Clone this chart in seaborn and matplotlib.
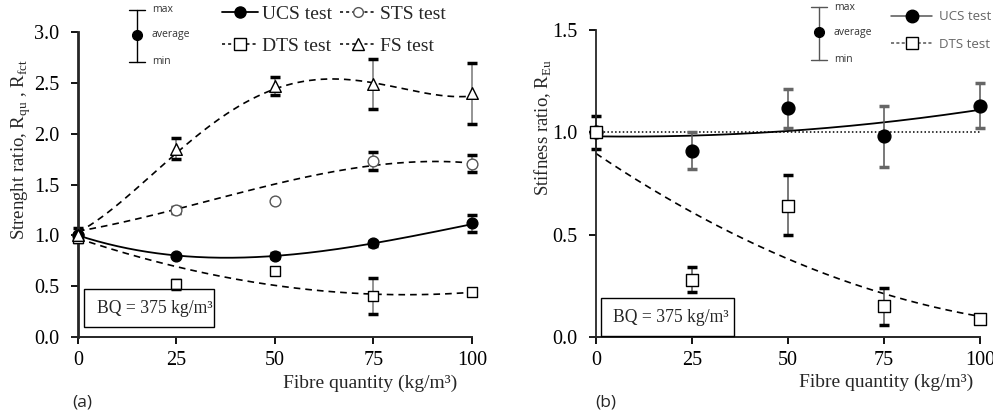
import numpy as np
import matplotlib
matplotlib.use("Agg")
import matplotlib.pyplot as plt
import seaborn as sns
from matplotlib.lines import Line2D
from matplotlib.patches import Rectangle

sns.set_style("ticks")
plt.rcParams['font.family'] = ['Liberation Serif', 'DejaVu Serif']
plt.rcParams['mathtext.fontset'] = 'custom'
plt.rcParams['mathtext.rm'] = 'Liberation Serif'

# fibre quantities (kg/m3)
fibre = [0, 25, 50, 75, 100]

# (a) strength ratio: average, min, max
ucs_avg = [1.00, 0.80, 0.80, 0.92, 1.12]
ucs_min = [0.93, 0.80, 0.78, 0.90, 1.03]
ucs_max = [1.07, 0.80, 0.83, 0.94, 1.20]
sts_avg = [1.00, 1.25, 1.34, 1.73, 1.70]
sts_min = [1.00, 1.22, 1.34, 1.64, 1.62]
sts_max = [1.00, 1.28, 1.34, 1.82, 1.79]
dts_avg = [0.97, 0.52, 0.65, 0.40, 0.44]
dts_min = [0.97, 0.47, 0.65, 0.23, 0.44]
dts_max = [0.97, 0.56, 0.65, 0.58, 0.44]
fs_avg = [1.00, 1.85, 2.47, 2.49, 2.40]
fs_min = [1.00, 1.75, 2.38, 2.24, 2.10]
fs_max = [1.00, 1.96, 2.56, 2.73, 2.70]

# (a) trend lines, read at each fibre quantity
ucs_trend = [1.00, 0.80, 0.80, 0.92, 1.11]
sts_trend = [1.04, 1.26, 1.50, 1.69, 1.71]
dts_trend = [0.97, 0.69, 0.51, 0.42, 0.44]
fs_trend = [1.03, 1.81, 2.44, 2.50, 2.37]

# (b) stiffness ratio: average, min, max
ucs_e_avg = [1.00, 0.91, 1.12, 0.98, 1.13]
ucs_e_min = [0.92, 0.82, 1.02, 0.83, 1.02]
ucs_e_max = [1.08, 1.00, 1.21, 1.13, 1.24]
dts_e_avg = [1.00, 0.28, 0.64, 0.15, 0.09]
dts_e_min = [1.00, 0.22, 0.50, 0.06, 0.09]
dts_e_max = [1.00, 0.34, 0.79, 0.24, 0.09]

# (b) trend lines
ucs_e_trend = [0.98, 0.985, 1.005, 1.05, 1.11]
dts_e_trend = [0.90, 0.60, 0.39, 0.21, 0.10]
reference = 1.0

W, H = 993, 415
fig = plt.figure(figsize=(W / 100, H / 100), dpi=100)


def fx(px):
    return px / W


def fy(py):
    return 1 - py / H


ax1 = fig.add_axes([fx(72), fy(337), (472 - 72) / W, (337 - 32) / H])
ax2 = fig.add_axes([fx(590), fy(337), (980 - 590) / W, (337 - 30) / H])

xs = np.linspace(0, 100, 200)


def trend(vals, deg=3):
    return np.polyval(np.polyfit(fibre, vals, deg), xs)


def bars(ax, avg, lo, hi, cap_colors=None, line_color='#777777'):
    for i, x in enumerate(fibre):
        if hi[i] <= lo[i]:
            continue
        cc = 'black' if cap_colors is None else cap_colors[i]
        _, caps, _ = ax.errorbar([x], [avg[i]], yerr=[[avg[i] - lo[i]], [hi[i] - avg[i]]],
                                 fmt='none', ecolor=line_color, elinewidth=1.1, capsize=3.8,
                                 capthick=2.5, zorder=2, clip_on=False)
        for c in caps:
            c.set_color(cc)
            c.set_markeredgecolor(cc)
            c.set_clip_on(False)


dash = (0, (4, 3))

# ---- panel (a)
sns.lineplot(x=xs, y=trend(fs_trend, 4), ax=ax1, color='black', lw=1.2, linestyle=dash)
sns.lineplot(x=xs, y=trend(sts_trend), ax=ax1, color='black', lw=1.2, linestyle=dash)
sns.lineplot(x=xs, y=trend(dts_trend), ax=ax1, color='black', lw=1.2, linestyle=dash)
sns.lineplot(x=xs, y=trend(ucs_trend), ax=ax1, color='black', lw=1.3)

bars(ax1, fs_avg, fs_min, fs_max)
bars(ax1, sts_avg, sts_min, sts_max)
bars(ax1, dts_avg, dts_min, dts_max)
bars(ax1, ucs_avg, ucs_min, ucs_max)

sns.scatterplot(x=fibre, y=sts_avg, ax=ax1, marker='o', s=60, color='white',
                edgecolor='#555555', linewidth=1, zorder=4, clip_on=False)
sns.scatterplot(x=fibre, y=dts_avg, ax=ax1, marker='s', s=60, color='white',
                edgecolor='black', linewidth=1, zorder=4, clip_on=False)
sns.scatterplot(x=fibre, y=ucs_avg, ax=ax1, marker='o', s=60, color='black',
                edgecolor='black', linewidth=1, zorder=5, clip_on=False)
sns.scatterplot(x=fibre, y=fs_avg, ax=ax1, marker='^', s=70, color='white',
                edgecolor='black', linewidth=1, zorder=5, clip_on=False)

ax1.set_xlim(-1.52, 100)
ax1.set_ylim(0, 3)
ax1.set_yticks([0, 0.5, 1.0, 1.5, 2.0, 2.5, 3.0])
ax1.set_yticklabels(['0.0', '0.5', '1.0', '1.5', '2.0', '2.5', '3.0'])

# ---- panel (b)
ax2.hlines(reference, 0, 100, colors='black', linestyles=(0, (1, 1.5)), lw=1.1)
sns.lineplot(x=xs, y=trend(dts_e_trend, 2), ax=ax2, color='black', lw=1.2, linestyle=dash)
sns.lineplot(x=xs, y=trend(ucs_e_trend, 2), ax=ax2, color='black', lw=1.3)

bars(ax2, ucs_e_avg, ucs_e_min, ucs_e_max,
     cap_colors=['black', '#666666', '#666666', '#666666', '#666666'], line_color='#555555')
bars(ax2, dts_e_avg, dts_e_min, dts_e_max, line_color='#555555')

sns.scatterplot(x=fibre, y=ucs_e_avg, ax=ax2, marker='o', s=85, color='black',
                edgecolor='black', linewidth=1, zorder=5, clip_on=False)
sns.scatterplot(x=fibre, y=dts_e_avg, ax=ax2, marker='s', s=70, color='white',
                edgecolor='black', linewidth=1, zorder=6, clip_on=False)

ax2.set_xlim(-1.56, 100)
ax2.set_ylim(0, 1.5)
ax2.set_yticks([0, 0.5, 1.0, 1.5])
ax2.set_yticklabels(['0.0', '0.5', '1.0', '1.5'])

for ax, lw in [(ax1, 2.0), (ax2, 1.3)]:
    ax.spines['left'].set_position(('data', 0))
    ax.spines['left'].set_linewidth(lw)
    ax.spines['bottom'].set_linewidth(1.4)
    ax.spines['bottom'].set_bounds(ax.get_xlim()[0], 100)
    for s in ['top', 'right']:
        ax.spines[s].set_visible(False)
    ax.set_xticks(fibre)
    ax.set_xticklabels([str(v) for v in fibre])
    ax.tick_params(axis='both', direction='out', length=5, width=1.3, colors='black',
                   labelsize=14.5)
    ax.tick_params(axis='x', pad=5)
    ax.tick_params(axis='y', pad=8.5)
    ax.set_xlabel('')
    ax.set_ylabel('')

# axis titles
fig.text(fx(21), fy(150), r'Strenght ratio, R$_{\mathregular{qu}}$ , R$_{\mathregular{fct}}$',
         rotation=90, ha='center', va='center', fontsize=13.5)
fig.text(fx(543), fy(128), r'Stifness ratio, R$_{\mathregular{Eu}}$',
         rotation=90, ha='center', va='center', fontsize=13.5)
fig.text(fx(457), fy(383), 'Fibre quantity (kg/m³)', ha='right', va='center', fontsize=14)
fig.text(fx(973), fy(382), 'Fibre quantity (kg/m³)', ha='right', va='center', fontsize=14)
fig.text(fx(72), fy(402), '(a)', ha='left', va='center', fontsize=12.5, family='Open Sans')
fig.text(fx(595), fy(402), '(b)', ha='left', va='center', fontsize=12.5, family='Open Sans')

# BQ boxes
for (x0, y0, x1, y1, tx) in [(84, 289, 214, 327, 97), (601, 298, 734, 336, 613)]:
    fig.add_artist(Rectangle((fx(x0), fy(y1)), (x1 - x0) / W, (y1 - y0) / H,
                             transform=fig.transFigure, fill=False, ec='black', lw=1))
    fig.text(fx(tx), fy((y0 + y1) / 2), 'BQ = 375 kg/m³', ha='left', va='center', fontsize=12.7)

# max / average / min key
for (lx, top, mid, bot, col) in [(137, 10, 35, 62, 'black'), (819, 7, 32, 60, '#555555')]:
    fig.add_artist(Line2D([fx(lx), fx(lx)], [fy(top), fy(bot)], transform=fig.transFigure,
                          color=col, lw=1))
    for yy in (top, bot):
        fig.add_artist(Line2D([fx(lx - 8), fx(lx + 8)], [fy(yy), fy(yy)],
                              transform=fig.transFigure, color=col, lw=1))
    fig.add_artist(Line2D([fx(lx)], [fy(mid)], transform=fig.transFigure, marker='o',
                          ms=7, color='black', ls='none'))
    for txt, yy in [('max', top), ('average', mid), ('min', bot)]:
        fig.text(fx(lx + 15), fy(yy), txt, ha='left', va='center', fontsize=7.5,
                 family='Open Sans', color='#333333')

# legends
leg_a = [
    Line2D([], [], color='black', lw=1.3, marker='o', ms=8, mfc='black', mec='black', label='UCS test'),
    Line2D([], [], color='black', lw=1.1, ls=(0, (2, 2)), marker='s', ms=8, mfc='white', mec='black', label='DTS test'),
    Line2D([], [], color='black', lw=1.1, ls=(0, (2, 2)), marker='o', ms=7, mfc='white', mec='#555555', label='STS test'),
    Line2D([], [], color='black', lw=1.1, ls=(0, (2, 2)), marker='^', ms=8, mfc='white', mec='black', label='FS test'),
]
fig.legend(handles=leg_a, loc='upper left', bbox_to_anchor=(fx(220), fy(3)), ncol=2,
           frameon=False, fontsize=14, handlelength=1.85, handletextpad=0.2,
           columnspacing=0.4, labelspacing=0.75, borderaxespad=0, borderpad=0.1)

leg_b = [
    Line2D([], [], color='#555555', lw=1.1, marker='o', ms=9, mfc='black', mec='black', label='UCS test'),
    Line2D([], [], color='#555555', lw=1.1, ls=(0, (2, 1.5)), marker='s', ms=8, mfc='white', mec='black', label='DTS test'),
]
fig.legend(handles=leg_b, loc='upper left', bbox_to_anchor=(fx(890), fy(9)), ncol=1,
           frameon=False, prop={'family': 'Open Sans', 'size': 9.5}, labelcolor='#666666',
           handlelength=3.1, handletextpad=0.5, labelspacing=1.1, borderaxespad=0, borderpad=0.1)

fig.savefig('out.png', dpi=100)
